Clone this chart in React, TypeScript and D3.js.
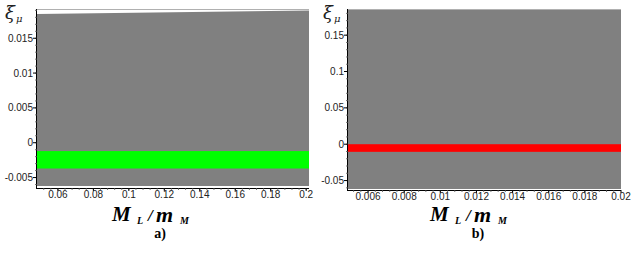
import React from 'react';
import * as d3 from 'd3';

// panel a) data
const aX = [0.0482, 0.2016];
const aTop = [0.0185, 0.019];
const aBottom = -0.0062;
const aBand = [-0.0037, -0.0012];
const aXTicks = [0.06, 0.08, 0.1, 0.12, 0.14, 0.16, 0.18, 0.2];
const aYTicks = [-0.005, 0, 0.005, 0.01, 0.015];
const aYLabels = ['-0.005', '0', '0.005', '0.01', '0.015'];

// panel b) data
const bX = [0.00489, 0.02];
const bTop = [0.1845, 0.1845];
const bBottom = -0.0615;
const bBand = [-0.0105, 0];
const bXTicks = [0.006, 0.008, 0.01, 0.012, 0.014, 0.016, 0.018, 0.02];
const bYTicks = [-0.05, 0, 0.05, 0.1, 0.15];
const bYLabels = ['-0.05', '0', '0.05', '0.1', '0.15'];

interface PanelProps {
  dx: number; // horizontal offset of whole panel
  left: number;
  right: number;
  xs: number[];
  top: number[];
  bottom: number;
  band: number[];
  bandColor: string;
  xDomain: [number, number];
  yDomain: [number, number];
  yRange: [number, number];
  xTicks: number[];
  xMinor: number;
  yTicks: number[];
  yLabels: string[];
  yMinor: number;
  tag: string;
}

const Panel: React.FC<PanelProps> = (p) => {
  const x = d3.scaleLinear().domain(p.xDomain).range([p.left, p.right]);
  const y = d3.scaleLinear().domain(p.yDomain).range(p.yRange);
  const area = d3
    .area<number>()
    .x((d) => x(d))
    .y0(() => y(p.bottom))
    .y1((_, i) => y(p.top[i]));
  const axisY = p.yRange[0];
  const fmt = (v: number) => String(+v.toFixed(4));

  const xMinorTicks = d3.range(
    Math.ceil(p.xDomain[0] / p.xMinor) * p.xMinor,
    p.xDomain[1],
    p.xMinor
  );
  const yMinorTicks = d3.range(
    Math.ceil(p.yDomain[0] / p.yMinor) * p.yMinor,
    p.yDomain[1],
    p.yMinor
  );
  const cx = p.dx;

  return (
    <g>
      {/* top frame line */}
      <line x1={p.left} x2={p.right} y1={p.yRange[1] + 0.5} y2={p.yRange[1] + 0.5} stroke="#b0b0b0" />
      <path d={area(p.xs) || ''} fill="#808080" />
      <rect
        x={p.left}
        width={p.right - p.left}
        y={y(p.band[1])}
        height={y(p.band[0]) - y(p.band[1])}
        fill={p.bandColor}
      />
      {/* y axis */}
      <line x1={p.left - 0.5} x2={p.left - 0.5} y1={p.yRange[1]} y2={axisY} stroke="#000" />
      {yMinorTicks.map((t, i) => (
        <line key={'ym' + i} x1={p.left - 2} x2={p.left} y1={y(t)} y2={y(t)} stroke="#555" strokeWidth={0.8} />
      ))}
      {p.yTicks.map((t, i) => (
        <g key={'y' + i}>
          <line x1={p.left - 4} x2={p.left} y1={y(t)} y2={y(t)} stroke="#000" />
          <text x={p.left - 4} y={y(t) + 3.5} textAnchor="end" fontSize={10} fill="#222" fontFamily="Liberation Sans, Arial, sans-serif">
            {p.yLabels[i]}
          </text>
        </g>
      ))}
      {/* x axis */}
      <line x1={p.left - 1} x2={p.right} y1={axisY + 0.5} y2={axisY + 0.5} stroke="#000" />
      {xMinorTicks.map((t, i) => (
        <line key={'xm' + i} x1={x(t)} x2={x(t)} y1={axisY} y2={axisY + 2} stroke="#555" strokeWidth={0.8} />
      ))}
      {p.xTicks.map((t, i) => (
        <g key={'x' + i}>
          <line x1={x(t)} x2={x(t)} y1={axisY} y2={axisY + 3} stroke="#000" />
          <text x={x(t)} y={axisY + 10} textAnchor="middle" fontSize={10} fill="#222" fontFamily="Liberation Sans, Arial, sans-serif">
            {fmt(t)}
          </text>
        </g>
      ))}
      {/* y label xi_mu */}
      <text x={cx + 5} y={19} fontSize={18} fontStyle="italic" fontFamily="DejaVu Serif, serif" fill="#222">
        ξ
      </text>
      <text x={cx + 16} y={22} fontSize={10} fontStyle="italic" fontFamily="DejaVu Serif, serif" fill="#222">
        μ
      </text>
      {/* x label M_L / m_M */}
      <g fontFamily="Liberation Serif, Times New Roman, serif" fontWeight="bold" fontStyle="italic" fill="#000">
        <text x={cx + 112} y={221} fontSize={21}>M</text>
        <text x={cx + 137} y={224} fontSize={10}>L</text>
        <text x={cx + 148} y={221} fontSize={17}>/</text>
        <text x={cx + 156} y={222} fontSize={22}>m</text>
        <text x={cx + 180} y={224} fontSize={10}>M</text>
      </g>
      <text x={cx + 160} y={238} textAnchor="middle" fontSize={14} fontWeight="bold" fontFamily="Liberation Serif, Times New Roman, serif">
        {p.tag}
      </text>
    </g>
  );
};

const App: React.FC = () => {
  return (
    <svg width={638} height={255} style={{ position: 'absolute', left: 0, top: 0, background: '#fff' }}>
      <Panel
        dx={0}
        left={37}
        right={309}
        xs={aX}
        top={aTop}
        bottom={aBottom}
        band={aBand}
        bandColor="#00ff00"
        xDomain={[aX[0], aX[1]]}
        yDomain={[-0.0065, 0.0192]}
        yRange={[188, 9]}
        xTicks={aXTicks}
        xMinor={0.004}
        yTicks={aYTicks}
        yLabels={aYLabels}
        yMinor={0.001}
        tag="a)"
      />
      <Panel
        dx={318}
        left={348}
        right={621}
        xs={bX}
        top={bTop}
        bottom={bBottom}
        band={bBand}
        bandColor="#ff0000"
        xDomain={[bX[0], bX[1]]}
        yDomain={[-0.063, 0.186]}
        yRange={[190, 9]}
        xTicks={bXTicks}
        xMinor={0.0004}
        yTicks={bYTicks}
        yLabels={bYLabels}
        yMinor={0.01}
        tag="b)"
      />
    </svg>
  );
};

export default App;
